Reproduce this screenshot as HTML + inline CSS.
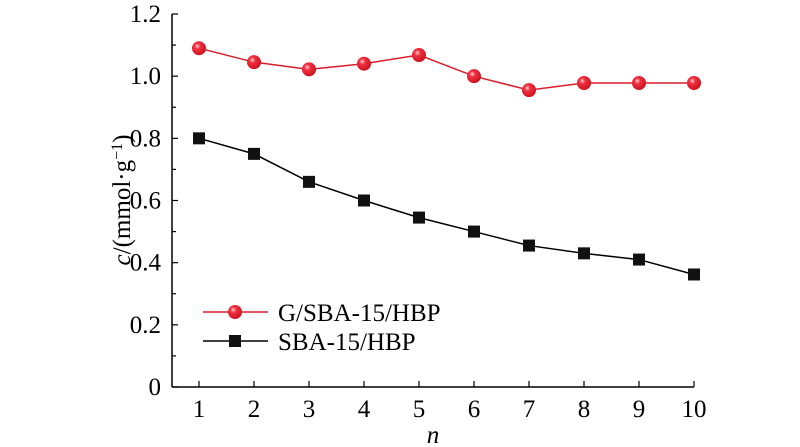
<!DOCTYPE html>
<html><head><meta charset="utf-8"><style>
html,body{margin:0;padding:0;background:#fff;}
svg{display:block;font-family:"Liberation Serif",serif;}
</style></head><body>
<svg id="chart" width="800" height="447" viewBox="0 0 800 447">
<defs>
<radialGradient id="rg" cx="0.38" cy="0.35" r="0.7">
<stop offset="0" stop-color="#ffd0d4"/><stop offset="0.3" stop-color="#f03040"/><stop offset="1" stop-color="#c8101c"/>
</radialGradient>
</defs>
<g id="axes"></g>
<g id="series"></g>
<text x="130" y="200" transform="rotate(-90 130 200)" text-anchor="middle" font-size="25"><tspan font-style="italic">c</tspan>/(mmol·g<tspan baseline-shift="super" font-size="16">−1</tspan>)</text>
<text x="433" y="443" text-anchor="middle" font-size="25" font-style="italic">n</text>
<g>
<line x1="203" y1="312" x2="268" y2="312" stroke="#d81e2a" stroke-width="1.5"/>
<circle cx="235" cy="312" r="7" fill="url(#rg)"/>
<text x="278" y="321" font-size="25">G/SBA-15/HBP</text>
<line x1="203" y1="341" x2="268" y2="341" stroke="#000" stroke-width="1.5"/>
<rect x="229" y="335" width="12" height="12" fill="#111"/>
<text x="278" y="350" font-size="25">SBA-15/HBP</text>
</g>
</svg>
<script>
const categories=[1,2,3,4,5,6,7,8,9,10];
const gSbaValues=[1.09,1.045,1.022,1.04,1.068,1.0,0.955,0.978,0.978,0.978];
const sbaValues=[0.80,0.75,0.66,0.60,0.545,0.50,0.455,0.43,0.41,0.362];
const yTickLabels=["0","0.2","0.4","0.6","0.8","1.0","1.2"];
const NS="http://www.w3.org/2000/svg";
const X0=172,XR=694,Y0=387,YT=14;
function xs(v){return 199+(v-1)*55;}
function ys(v){return Y0-(v/1.2)*(Y0-YT);}
function mk(tag,attrs,parent){const e=document.createElementNS(NS,tag);for(const k in attrs)e.setAttribute(k,attrs[k]);parent.appendChild(e);return e;}
const ax=document.getElementById('axes');
let l=mk('line',{x1:X0,y1:Y0,x2:XR,y2:Y0,stroke:'#000','stroke-width':1.5},ax);


l=mk('line',{x1:X0,y1:Y0,x2:X0,y2:YT,stroke:'#000','stroke-width':1.5},ax);


for(let i=0;i<=12;i++){
  const v=i/10,y=ys(v),major=i%2===0;
  mk('line',{x1:X0,y1:y,x2:X0+(major?6:4),y2:y,stroke:'#000','stroke-width':1.2},ax);
}
yTickLabels.forEach(t=>{
  const e=mk('text',{x:X0-11,y:ys(parseFloat(t))+8,'text-anchor':'end','font-size':25},ax);
  e.textContent=t;
  
  
});
categories.forEach(c=>{
  mk('line',{x1:xs(c),y1:Y0,x2:xs(c),y2:Y0-6,stroke:'#000','stroke-width':1.2},ax);
  const e=mk('text',{x:xs(c),y:Y0+30,'text-anchor':'middle','font-size':25},ax);
  e.textContent=c;
  
  
});
const sg=document.getElementById('series');
function line(vals,color,name){
  const p=mk('polyline',{points:vals.map((v,i)=>xs(categories[i])+','+ys(v)).join(' '),fill:'none',stroke:color,'stroke-width':1.5},sg);
  
  
}
line(gSbaValues,'#d81e2a','line-g-sba');
line(sbaValues,'#000','line-sba');
gSbaValues.forEach((v,i)=>{
  const c=mk('circle',{cx:xs(categories[i]),cy:ys(v),r:7,fill:'url(#rg)'},sg);
  
  
});
sbaValues.forEach((v,i)=>{
  const r=mk('rect',{x:xs(categories[i])-6,y:ys(v)-6,width:12,height:12,fill:'#111'},sg);
  
  
});
</script>
</body></html>
